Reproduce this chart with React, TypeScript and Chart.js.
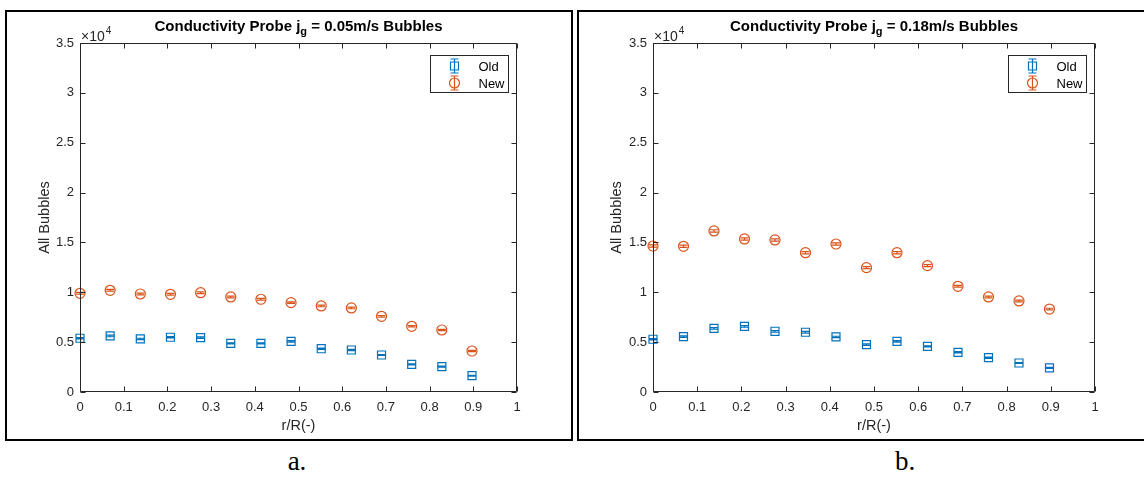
import React, { useEffect, useRef } from 'react';
import { Chart, registerables } from 'chart.js';

Chart.register(...registerables);

// Radial measurement positions r/R
const radialPositions = [0, 0.069, 0.138, 0.207, 0.276, 0.345, 0.414, 0.483, 0.552, 0.621, 0.69, 0.759, 0.828, 0.897];

// jg = 0.05 m/s
const oldLow = [5390, 5620, 5320, 5490, 5450, 4880, 4880, 5080, 4340, 4210, 3710, 2780, 2540, 1640];
const newLow = [9900, 10200, 9830, 9800, 9960, 9530, 9300, 8960, 8630, 8430, 7590, 6590, 6220, 4110];
const oldLowErr = [70, 80, 70, 70, 70, 60, 60, 70, 60, 60, 50, 50, 50, 40];
const newLowErr = [90, 90, 90, 90, 90, 90, 90, 80, 80, 80, 80, 70, 70, 60];

// jg = 0.18 m/s
const oldHigh = [5290, 5550, 6390, 6590, 6090, 5990, 5520, 4750, 5080, 4580, 3980, 3440, 2910, 2410];
const newHigh = [14640, 14610, 16150, 15350, 15250, 13970, 14840, 12470, 13970, 12670, 10600, 9530, 9130, 8320];
const oldHighErr = [70, 70, 80, 80, 80, 80, 70, 70, 70, 60, 60, 60, 50, 50];
const newHighErr = [110, 110, 120, 110, 110, 110, 110, 100, 110, 100, 90, 90, 90, 80];

const xTickLabels = ['0', '0.1', '0.2', '0.3', '0.4', '0.5', '0.6', '0.7', '0.8', '0.9', '1'];
const yTickLabels = ['0', '0.5', '1', '1.5', '2', '2.5', '3', '3.5'];

const BLUE = '#0072BD';
const ORANGE = '#D95319';
const AXIS = '#262626';
const SANS = '"Liberation Sans", Arial, Helvetica, sans-serif';

function drawMarker(ctx: CanvasRenderingContext2D, style: string, color: string, x: number, y: number) {
  ctx.save();
  ctx.strokeStyle = color;
  ctx.lineWidth = 1.2;
  ctx.beginPath();
  if (style === 'rect') {
    ctx.rect(x - 4, y - 4, 8, 8);
  } else {
    ctx.arc(x, y, 5, 0, Math.PI * 2);
  }
  ctx.stroke();
  ctx.restore();
}

function drawErrorBar(ctx: CanvasRenderingContext2D, color: string, x: number, y1: number, y2: number, cap: number) {
  ctx.save();
  ctx.strokeStyle = color;
  ctx.lineWidth = 1.2;
  ctx.beginPath();
  ctx.moveTo(x, y1);
  ctx.lineTo(x, y2);
  ctx.moveTo(x - cap, y1);
  ctx.lineTo(x + cap, y1);
  ctx.moveTo(x - cap, y2);
  ctx.lineTo(x + cap, y2);
  ctx.stroke();
  ctx.restore();
}

const errorBarPlugin = {
  id: 'errorBars',
  afterDatasetsDraw(chart: any) {
    const { ctx, scales } = chart;
    chart.data.datasets.forEach((ds: any, i: number) => {
      const meta = chart.getDatasetMeta(i);
      const errs: number[] = ds.errors || [];
      meta.data.forEach((pt: any, j: number) => {
        const v = ds.data[j].y;
        const e = errs[j] || 0;
        const y1 = scales.y.getPixelForValue(v - e);
        const y2 = scales.y.getPixelForValue(v + e);
        drawErrorBar(ctx, ds.borderColor, pt.x, y1, y2, 4);
      });
    });
  },
};

const boxPlugin = {
  id: 'axesBox',
  afterDraw(chart: any) {
    const { ctx, chartArea: a, scales } = chart;
    const L = Math.round(a.left) + 0.5;
    const R = Math.round(a.right) - 0.5;
    const T = Math.round(a.top) + 0.5;
    const B = Math.round(a.bottom) - 0.5;
    const tick = 5;
    ctx.save();
    ctx.strokeStyle = AXIS;
    ctx.lineWidth = 1;
    ctx.beginPath();
    ctx.rect(L, T, R - L, B - T);
    scales.x.ticks.forEach((t: any) => {
      const px = Math.round(scales.x.getPixelForValue(t.value)) + 0.5;
      ctx.moveTo(px, B);
      ctx.lineTo(px, B - tick);
      ctx.moveTo(px, T);
      ctx.lineTo(px, T + tick);
    });
    scales.y.ticks.forEach((t: any) => {
      const py = Math.round(scales.y.getPixelForValue(t.value)) + 0.5;
      ctx.moveTo(L, py);
      ctx.lineTo(L + tick, py);
      ctx.moveTo(R, py);
      ctx.lineTo(R - tick, py);
    });
    ctx.stroke();

    // exponent of the y axis
    ctx.fillStyle = AXIS;
    ctx.textBaseline = 'alphabetic';
    ctx.textAlign = 'left';
    ctx.font = `14px ${SANS}`;
    const ex = a.left + 1;
    const ey = a.top - 2;
    ctx.fillText('\u00d710', ex, ey);
    const w = ctx.measureText('\u00d710').width;
    ctx.font = `10px ${SANS}`;
    ctx.fillText('4', ex + w + 1, ey - 7);
    ctx.restore();
  },
};

const titlePlugin = {
  id: 'subTitle',
  afterDraw(chart: any, _args: any, opts: any) {
    const { ctx, chartArea: a } = chart;
    const main = `bold 15px ${SANS}`;
    const sub = `bold 11px ${SANS}`;
    const p1 = 'Conductivity Probe j';
    const p2 = 'g';
    const p3 = ` = ${opts.speed}m/s Bubbles`;
    ctx.save();
    ctx.fillStyle = '#000';
    ctx.textBaseline = 'alphabetic';
    ctx.textAlign = 'left';
    ctx.font = main;
    const w1 = ctx.measureText(p1).width;
    const w3 = ctx.measureText(p3).width;
    ctx.font = sub;
    const w2 = ctx.measureText(p2).width;
    const total = w1 + w2 + w3;
    let x = (a.left + a.right) / 2 - total / 2;
    const y = 19;
    ctx.font = main;
    ctx.fillText(p1, x, y);
    x += w1;
    ctx.font = sub;
    ctx.fillText(p2, x, y + 4);
    x += w2;
    ctx.font = main;
    ctx.fillText(p3, x, y);
    ctx.restore();
  },
};

const legendPlugin = {
  id: 'boxLegend',
  afterDraw(chart: any) {
    const { ctx, chartArea: a } = chart;
    const bw = 78;
    const bh = 37;
    const bx = Math.round(a.right - 9 - bw) + 0.5;
    const by = Math.round(a.top + 12) + 0.5;
    ctx.save();
    ctx.fillStyle = '#fff';
    ctx.fillRect(bx, by, bw, bh);
    ctx.strokeStyle = AXIS;
    ctx.lineWidth = 1;
    ctx.strokeRect(bx, by, bw, bh);
    chart.data.datasets.forEach((ds: any, i: number) => {
      const cy = by + 10.5 + i * 17;
      const cx = bx + 24;
      drawErrorBar(ctx, ds.borderColor, cx, cy - 7, cy + 7, 4);
      drawMarker(ctx, ds.pointStyle, ds.borderColor, cx, cy);
      ctx.fillStyle = '#000';
      ctx.font = `13px ${SANS}`;
      ctx.textBaseline = 'middle';
      ctx.textAlign = 'left';
      ctx.fillText(ds.label, bx + 48, cy + 1);
    });
    ctx.restore();
  },
};

type PanelProps = {
  speed: string;
  oldValues: number[];
  newValues: number[];
  oldErr: number[];
  newErr: number[];
  left: number;
  top: number;
  width: number;
  height: number;
  yAxisWidth: number;
  rightPad: number;
};

function ChartPanel(props: PanelProps) {
  const ref = useRef<HTMLCanvasElement>(null);
  useEffect(() => {
    if (!ref.current) return;
    const toPoints = (vals: number[]) => vals.map((v, i) => ({ x: radialPositions[i], y: v }));
    const chart = new Chart(ref.current, {
      type: 'scatter',
      data: {
        datasets: [
          {
            label: 'Old',
            data: toPoints(props.oldValues),
            errors: props.oldErr,
            pointStyle: 'rect',
            pointRadius: 5.66,
            borderColor: BLUE,
            backgroundColor: 'rgba(0,0,0,0)',
            borderWidth: 1.2,
            clip: false,
          } as any,
          {
            label: 'New',
            data: toPoints(props.newValues),
            errors: props.newErr,
            pointStyle: 'circle',
            pointRadius: 5,
            borderColor: ORANGE,
            backgroundColor: 'rgba(0,0,0,0)',
            borderWidth: 1.2,
            clip: false,
          } as any,
        ],
      },
      options: {
        responsive: false,
        animation: false,
        devicePixelRatio: 1,
        layout: { padding: { top: 31, right: props.rightPad, left: 0, bottom: 0 } },
        plugins: {
          legend: { display: false },
          tooltip: { enabled: false },
          subTitle: { speed: props.speed },
        } as any,
        scales: {
          x: {
            type: 'linear',
            min: 0,
            max: 1,
            grid: { display: false, drawTicks: false },
            border: { display: false },
            ticks: {
              stepSize: 0.1,
              padding: 8,
              color: AXIS,
              font: { family: SANS, size: 13 },
              maxRotation: 0,
              autoSkip: false,
              callback: (_v: any, i: number) => xTickLabels[i],
            },
            title: {
              display: true,
              text: 'r/R(-)',
              color: AXIS,
              font: { family: SANS, size: 14.5 },
              padding: { top: 0, bottom: 3 },
            },
            afterFit: (s: any) => {
              s.height = 46;
            },
          },
          y: {
            type: 'linear',
            min: 0,
            max: 35000,
            grid: { display: false, drawTicks: false },
            border: { display: false },
            ticks: {
              stepSize: 5000,
              padding: 6,
              color: AXIS,
              font: { family: SANS, size: 13 },
              autoSkip: false,
              callback: (_v: any, i: number) => yTickLabels[i],
            },
            title: {
              display: true,
              text: 'All Bubbles',
              color: AXIS,
              font: { family: SANS, size: 14.5 },
              padding: { top: 29, bottom: 0 },
            },
            afterFit: (s: any) => {
              s.width = props.yAxisWidth;
            },
          },
        },
      },
      plugins: [errorBarPlugin, boxPlugin, titlePlugin, legendPlugin],
    });
    return () => chart.destroy();
  }, []);
  return (
    <canvas
      ref={ref}
      width={props.width}
      height={props.height}
      style={{ position: 'absolute', left: props.left, top: props.top, width: props.width, height: props.height, display: 'block' }}
    />
  );
}

const frameStyle = (left: number, width: number): React.CSSProperties => ({
  position: 'absolute',
  left,
  top: 10,
  width,
  height: 431,
  border: '2px solid #000',
  boxSizing: 'border-box',
});

const captionStyle = (center: number): React.CSSProperties => ({
  position: 'absolute',
  left: center - 50,
  top: 448,
  width: 100,
  textAlign: 'center',
  font: '27px "Liberation Serif", "Times New Roman", serif',
  lineHeight: '27px',
  color: '#000',
});

export default function App() {
  return (
    <div style={{ position: 'absolute', left: 0, top: 0, width: 1144, height: 479, background: '#fff', overflow: 'hidden' }}>
      <div style={frameStyle(5, 568)} />
      <div style={frameStyle(577, 600)} />
      <ChartPanel
        speed="0.05"
        oldValues={oldLow}
        newValues={newLow}
        oldErr={oldLowErr}
        newErr={newLowErr}
        left={7}
        top={12}
        width={564}
        height={426}
        yAxisWidth={73}
        rightPad={54}
      />
      <ChartPanel
        speed="0.18"
        oldValues={oldHigh}
        newValues={newHigh}
        oldErr={oldHighErr}
        newErr={newHighErr}
        left={579}
        top={12}
        width={563}
        height={426}
        yAxisWidth={74}
        rightPad={47}
      />
      <div style={captionStyle(297)}>a.</div>
      <div style={captionStyle(905)}>b.</div>
    </div>
  );
}
